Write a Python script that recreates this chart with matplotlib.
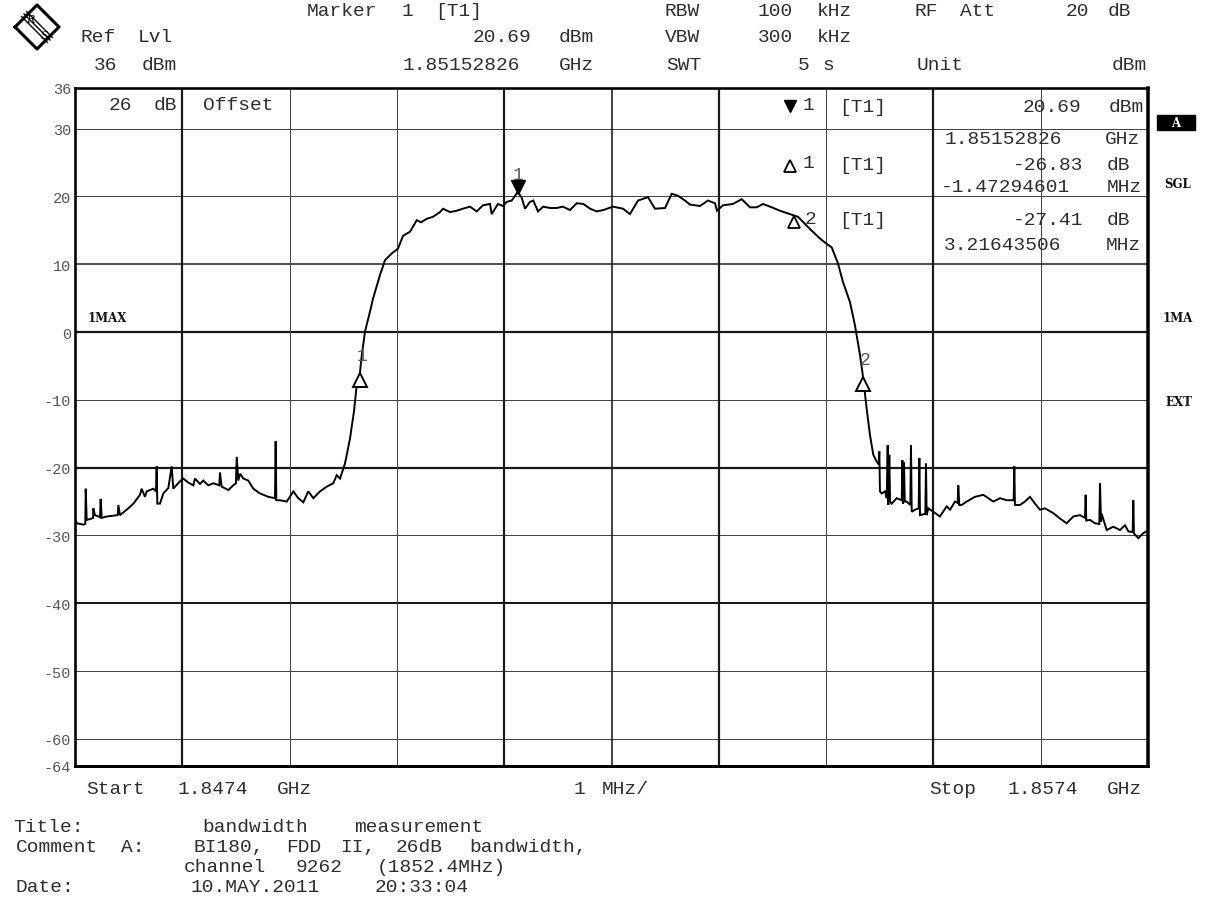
import numpy as np
import matplotlib
matplotlib.use("Agg")
import matplotlib.pyplot as plt
from matplotlib.transforms import offset_copy
from matplotlib.patches import Rectangle

# ---------------- data ----------------
START_MHZ = 1847.4
SPAN_MHZ = 10.0

freq_offset_mhz = [
    0.000, 0.016, 0.078, 0.096, 0.100, 0.109, 0.156, 0.168, 0.171, 0.186,
    0.233, 0.239, 0.249, 0.295, 0.398, 0.404, 0.419, 0.497, 0.544, 0.606,
    0.621, 0.652, 0.668, 0.730, 0.755, 0.761, 0.767, 0.792, 0.823, 0.870,
    0.901, 0.916, 0.979, 1.009, 1.056, 1.103, 1.118, 1.165, 1.196, 1.242,
    1.289, 1.345, 1.351, 1.367, 1.429, 1.475, 1.500, 1.507, 1.522, 1.538,
    1.569, 1.615, 1.662, 1.724, 1.802, 1.864, 1.870, 1.876, 1.911, 1.973,
    2.035, 2.081, 2.128, 2.174, 2.221, 2.283, 2.346, 2.407, 2.439, 2.470,
    2.516, 2.563, 2.600, 2.625, 2.655, 2.672, 2.703, 2.749, 2.777, 2.842,
    2.889, 2.952, 3.010, 3.057, 3.122, 3.185, 3.225, 3.278, 3.336, 3.402,
    3.430, 3.495, 3.557, 3.616, 3.681, 3.744, 3.802, 3.868, 3.883, 3.914,
    3.942, 3.989, 4.023, 4.070, 4.128, 4.163, 4.194, 4.240, 4.271, 4.315,
    4.364, 4.427, 4.489, 4.548, 4.613, 4.676, 4.738, 4.800, 4.862, 4.924,
    5.014, 5.107, 5.172, 5.247, 5.340, 5.405, 5.499, 5.561, 5.620, 5.685,
    5.732, 5.825, 5.899, 5.965, 5.983, 6.039, 6.132, 6.213, 6.291, 6.353,
    6.412, 6.493, 6.570, 6.664, 6.738, 6.850, 6.943, 7.006, 7.052, 7.111,
    7.157, 7.223, 7.269, 7.316, 7.345, 7.378, 7.409, 7.440, 7.471, 7.490,
    7.496, 7.502, 7.518, 7.549, 7.565, 7.574, 7.580, 7.589, 7.596, 7.611,
    7.658, 7.705, 7.711, 7.717, 7.726, 7.733, 7.751, 7.785, 7.791, 7.798,
    7.829, 7.863, 7.869, 7.875, 7.925, 7.931, 7.937, 7.953, 7.999, 8.061,
    8.124, 8.155, 8.201, 8.226, 8.232, 8.241, 8.263, 8.310, 8.387, 8.465,
    8.512, 8.558, 8.621, 8.683, 8.748, 8.754, 8.760, 8.807, 8.853, 8.900,
    8.947, 8.993, 9.040, 9.117, 9.180, 9.242, 9.304, 9.366, 9.413, 9.419,
    9.425, 9.459, 9.506, 9.546, 9.553, 9.562, 9.568, 9.615, 9.677, 9.739,
    9.786, 9.817, 9.857, 9.863, 9.869, 9.910, 9.953, 9.984, 10.000]

level_dbm = [
    -27.5, -28.2, -28.4, -28.3, -23.1, -27.7, -27.5, -27.4, -26.0, -27.0,
    -27.3, -24.6, -27.4, -27.2, -27.0, -25.5, -27.0, -26.0, -25.3, -24.0,
    -23.1, -24.3, -23.5, -23.1, -23.5, -19.8, -25.3, -25.3, -23.8, -23.0,
    -19.8, -23.1, -22.0, -21.6, -22.2, -22.6, -21.6, -22.4, -21.9, -22.6,
    -22.3, -22.6, -20.7, -22.8, -23.3, -22.6, -22.3, -18.4, -21.9, -20.9,
    -21.6, -21.9, -23.1, -23.8, -24.3, -24.5, -16.1, -24.8, -24.8, -25.0,
    -23.5, -24.5, -25.1, -23.5, -24.5, -23.5, -22.8, -22.3, -21.1, -21.6,
    -19.4, -15.7, -11.7, -7.9, -6.1, -3.5, 0.1, 3.0, 4.9, 8.4,
    10.6, 11.6, 12.3, 14.2, 14.8, 16.5, 16.2, 16.7, 17.0, 17.7,
    18.2, 17.7, 17.9, 18.2, 18.5, 17.8, 18.7, 18.9, 17.4, 18.2,
    18.9, 18.6, 19.2, 19.4, 20.7, 19.8, 18.2, 19.2, 19.4, 17.8,
    18.5, 18.3, 18.3, 18.5, 18.0, 19.0, 18.9, 18.2, 17.8, 18.0,
    18.5, 18.2, 17.4, 19.4, 19.9, 18.2, 18.3, 20.4, 20.1, 19.4,
    18.8, 18.6, 19.4, 19.0, 17.9, 18.7, 18.9, 19.6, 18.4, 18.4,
    18.9, 18.4, 17.9, 17.4, 17.0, 15.2, 13.8, 13.0, 12.5, 10.1,
    7.4, 4.4, 1.0, -3.4, -6.7, -11.3, -15.2, -18.1, -19.1, -19.5,
    -17.6, -23.5, -23.8, -23.5, -24.5, -16.7, -25.5, -18.1, -25.0, -25.3,
    -24.5, -24.8, -18.9, -25.3, -19.2, -25.0, -25.0, -25.5, -16.7, -26.5,
    -26.2, -26.0, -18.6, -27.0, -26.8, -19.4, -27.0, -26.0, -26.5, -27.2,
    -25.7, -26.2, -25.0, -25.2, -22.6, -25.5, -25.5, -25.0, -24.3, -24.0,
    -24.5, -25.0, -24.5, -24.8, -24.8, -19.8, -25.5, -25.5, -25.0, -24.3,
    -25.3, -26.2, -26.0, -26.7, -27.5, -28.2, -27.2, -27.0, -27.4, -24.0,
    -27.8, -27.7, -28.2, -28.3, -22.3, -28.0, -26.8, -29.2, -28.7, -29.2,
    -28.5, -29.4, -29.5, -24.8, -29.7, -30.4, -29.7, -29.4, -29.6]

# marker read-outs
marker1_freq_ghz = 1.85152826
marker1_level_dbm = 20.69
delta_freq_mhz = [-1.47294601, 3.21643506]
delta_level_db = [-26.83, -27.41]

ytick_values = [36, 30, 20, 10, 0, -10, -20, -30, -40, -50, -60, -64]
ytick_labels = ["36", "30", "20", "10", "0", "-10", "-20", "-30", "-40", "-50", "-60", "-64"]
grid_levels = [30, 20, 10, 0, -10, -20, -30, -40, -50, -60]
grid_level_px = [1.0, 1.0, 1.5, 2.2, 1.0, 2.2, 1.0, 2.0, 1.0, 1.0]
grid_divs = [1, 2, 3, 4, 5, 6, 7, 8, 9]
grid_div_px = [2.2, 1.0, 1.0, 2.2, 1.6, 2.2, 1.0, 2.2, 1.0]

# ---------------- figure ----------------
W, H = 1214, 904
fig = plt.figure(figsize=(W / 100, H / 100), dpi=100)
fig.patch.set_facecolor("white")

L, R, T, B = 75, 1148, 89, 767
ax = fig.add_axes([L / W, 1 - B / H, (R - L) / W, (B - T) / H])
ax.set_xlim(0, SPAN_MHZ)
ax.set_ylim(-64, 36)
ax.set_facecolor("white")

PX = 0.72  # points per pixel
for lv, w in zip(grid_levels, grid_level_px):
    ax.axhline(lv, color="#1a1a1a" if w > 1.4 else "#444444", lw=w * PX, zorder=1)
for dv, w in zip(grid_divs, grid_div_px):
    ax.axvline(dv, color="#1a1a1a" if w > 1.4 else "#444444", lw=w * PX, zorder=1)

for sp in ax.spines.values():
    sp.set_linewidth(2.6 * PX)
    sp.set_color("black")
ax.spines["right"].set_linewidth(3.5 * PX)
ax.spines["bottom"].set_linewidth(3.0 * PX)

ax.set_xticks([])
ax.set_yticks(ytick_values)
ax.set_yticklabels(ytick_labels, family=["Liberation Mono", "DejaVu Sans Mono"],
                   fontsize=11, color="#555555")
ax.tick_params(axis="y", length=0, pad=3)

# trace
ax.plot(freq_offset_mhz, level_dbm, color="black", lw=1.4, zorder=3,
        solid_joinstyle="miter")

# markers on trace
m1_x = marker1_freq_ghz * 1000 - START_MHZ
m1_y = marker1_level_dbm
tr_dn = offset_copy(ax.transData, fig=fig, x=0, y=5, units="dots")
ax.plot([m1_x], [m1_y], marker="v", ms=10, color="black", mec="black",
        transform=tr_dn, zorder=5, clip_on=False)
ax.annotate("1", (m1_x, m1_y), xytext=(0, 17), textcoords="offset pixels",
            ha="center", va="center", fontsize=13, color="#555555",
            family=["Liberation Mono", "DejaVu Sans Mono"])
tr_up = offset_copy(ax.transData, fig=fig, x=0, y=-6, units="dots")
for i, (df, dl) in enumerate(zip(delta_freq_mhz, delta_level_db)):
    x = m1_x + df
    y = m1_y + dl
    ax.plot([x], [y], marker="^", ms=10, mfc="white", mec="black", mew=1.4,
            transform=tr_up, zorder=5)
    ax.annotate(str(i + 1), (x, y), xytext=(2, 18), textcoords="offset pixels",
                ha="center", va="center", fontsize=13, color="#555555",
                family=["Liberation Mono", "DejaVu Sans Mono"])

# ---------------- text helpers ----------------
MONO = ["Liberation Mono", "DejaVu Sans Mono"]
TXT = "#2e2e2e"


def put(s, x_left, x_right, y, size=14, color=TXT, **kw):
    """Place a monospaced line, spreading its words over the measured extent."""
    pitch = (x_right - x_left) / len(s)
    idx = 0
    for w in s.split(" "):
        if w:
            cx = x_left + (idx + len(w) / 2.0) * pitch
            fig.text(cx / W, 1 - y / H, w, ha="center", va="center",
                     family=MONO, fontsize=size, color=color, **kw)
        idx += len(w) + 1


# header
put("Marker 1 [T1]", 298, 488, 12)
put("RBW", 660, 705, 12)
put("100 kHz", 753, 857, 12)
put("RF Att", 911, 1000, 12)
put("20 dB", 1063, 1134, 12)
put("Ref Lvl", 76, 177, 38)
put("20.69 dBm", 465, 599, 38)
put("VBW", 660, 705, 38)
put("300 kHz", 753, 857, 38)
put("36 dBm", 90, 182, 65)
put("1.85152826 GHz", 385, 599, 65)
put("SWT", 662, 705, 65)
put("5 s", 797, 834, 65)
put("Unit", 910, 970, 65)
put("dBm", 1106, 1152, 65)

# in-plot info
put("26 dB Offset", 106, 283, 106)
for yy in (108, 165, 221):
    put("[T1]", 838, 887, yy)
put("20.69 dBm", 1015, 1148, 108)
put("1.85152826 GHz", 923, 1147, 139)
put("-26.83 dB", 1005, 1133, 165)
put("-1.47294601 MHz", 923, 1147, 188)
put("-27.41 dB", 1005, 1133, 221)
put("3.21643506 MHz", 923, 1147, 246)
put("1", 802, 814, 106)
put("1", 802, 814, 163)
put("2", 804, 816, 219)
fig.lines.append(plt.Line2D([790 / W], [1 - 107 / H], marker="v", ms=8,
                            color="black", transform=fig.transFigure))
fig.lines.append(plt.Line2D([790 / W], [1 - 167 / H], marker="^", ms=8,
                            mfc="white", mec="black", mew=1.3, transform=fig.transFigure))
fig.lines.append(plt.Line2D([794 / W], [1 - 223 / H], marker="^", ms=9,
                            mfc="white", mec="black", mew=1.3, transform=fig.transFigure))

# side annotations
BOLD = dict(family=["DejaVu Serif"], fontweight="bold", color="#111111")
fig.text(107 / W, 1 - 319 / H, "1MAX", ha="center", va="center", fontsize=8.5, **BOLD)
fig.patches.append(Rectangle((1157 / W, 1 - 131 / H), 38 / W, 15 / H,
                             facecolor="black", edgecolor="black",
                             transform=fig.transFigure))
fig.text(1176 / W, 1 - 123.5 / H, "A", ha="center", va="center", fontsize=8.5,
         family=["DejaVu Serif"], fontweight="bold", color="white")
fig.text(1178 / W, 1 - 184 / H, "SGL", ha="center", va="center", fontsize=8.5, **BOLD)
fig.text(1178 / W, 1 - 319 / H, "1MA", ha="center", va="center", fontsize=8.5, **BOLD)
fig.text(1179 / W, 1 - 403 / H, "EXT", ha="center", va="center", fontsize=8.5, **BOLD)

# logo (R&S style diamond)
lx, ly, lr = 37, 28, 22
fig.lines.append(plt.Line2D([(lx - lr) / W, lx / W, (lx + lr) / W, lx / W, (lx - lr) / W],
                            [1 - ly / H, 1 - (ly - lr) / H, 1 - ly / H, 1 - (ly + lr) / H, 1 - ly / H],
                            color="black", lw=2.2, transform=fig.transFigure))
for d in (-2.5, 0, 2.5):
    fig.lines.append(plt.Line2D([(lx - 13 + d) / W, (lx + 13 + d) / W],
                                [1 - (ly - 13 - d) / H, 1 - (ly + 13 - d) / H],
                                color="black", lw=1.0, transform=fig.transFigure))
fig.text((lx - 7) / W, 1 - (ly - 8) / H, "R", ha="center", va="center",
         fontsize=8, family=["DejaVu Serif"], fontstyle="italic")
fig.text((lx + 7) / W, 1 - (ly + 8) / H, "S", ha="center", va="center",
         fontsize=8, family=["DejaVu Serif"], fontstyle="italic")

# footer
put("Start 1.8474 GHz", 78, 317, 789)
put("1 MHz/", 573, 652, 789)
put("Stop 1.8574 GHz", 923, 1147, 789)
put("Title:", 9, 89, 828)
put("bandwidth measurement", 189, 500, 828)
put("Comment A:", 9, 147, 848)
put("BI180, FDD II, 26dB bandwidth,", 188, 596, 848)
put("channel 9262 (1852.4MHz)", 175, 520, 868)
put("Date:", 9, 80, 888)
put("10.MAY.2011  20:33:04", 175, 480, 888)

fig.savefig("out.png", dpi=100, facecolor="white")
